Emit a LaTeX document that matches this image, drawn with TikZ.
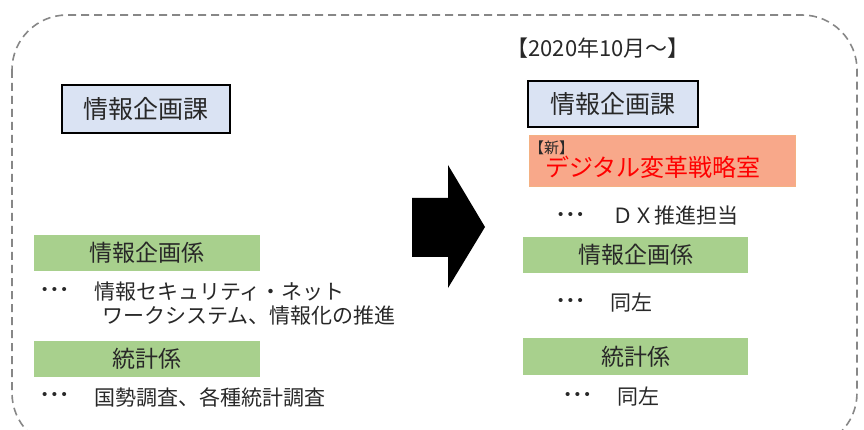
\documentclass[tikz,border=0pt]{standalone}
\usepackage{fontspec}
\setmainfont{Noto Sans CJK JP}
\newfontfamily\cjk{Noto Sans CJK JP}
\newfontfamily\latn{Liberation Sans}
\definecolor{bluefill}{RGB}{218,227,243}
\definecolor{greenfill}{RGB}{168,208,141}
\definecolor{orangefill}{RGB}{248,168,138}
\definecolor{orangeline}{RGB}{244,177,131}
\definecolor{frame}{RGB}{135,135,135}
\definecolor{txt}{RGB}{40,40,40}
\newcommand{\tridots}{•\hspace{4.5pt}•\hspace{4.5pt}•}
\begin{document}
\begin{tikzpicture}[x=1pt,y=-1pt,
  kabox/.style={draw=black,line width=1.5pt,fill=bluefill,inner sep=0pt,
    font=\cjk\fontsize{25}{28}\selectfont,text=txt},
  kakari/.style={fill=greenfill,inner sep=0pt,minimum width=226pt,minimum height=36pt,
    font=\cjk\fontsize{23}{26}\selectfont,text=txt},
  body/.style={anchor=west,inner sep=0pt,font=\cjk\fontsize{21}{24}\selectfont,text=txt},
  dots/.style={anchor=west,inner sep=0pt,font=\latn\fontsize{15}{17}\selectfont,text=txt}]
\useasboundingbox (0,0) rectangle (864,430);
\clip (0,0) rectangle (864,430);
% outer dashed frame
\draw[frame,line width=1.6pt,dash pattern=on 8pt off 5pt,rounded corners=55pt]
  (12,15) rectangle (857,448);
% arrow
\fill[black] (412,198) -- (448,198) -- (448,165) -- (485,227) -- (448,288)
  -- (448,257) -- (412,257) -- cycle;
% left side
\node[kabox,minimum width=168pt,minimum height=48pt] (lka) at (146,109) {情報企画課};
\node[kakari] (lk1) at (147,253) {情報企画係};
\node[dots] (ld1) at (42,291) {\tridots};
\node[body] (lt1) at (94,292) {情報セキュリティ・ネット};
\node[body] (lt2) at (102,316) {ワークシステム、情報化の推進};
\node[kakari] (lk2) at (147,359) {統計係};
\node[dots] (ld2) at (42,396) {\tridots};
\node[body] (lt3) at (94,397) {国勢調査、各種統計調査};
% right side
\node[inner sep=0pt,font=\cjk\fontsize{22}{24}\selectfont,text=txt] (date) at (598,48) {【2020年10月～】};
\node[kabox,minimum width=170pt,minimum height=46pt] (rka) at (613,104) {情報企画課};
\node[draw=orangeline,line width=0.8pt,fill=orangefill,minimum width=266pt,minimum height=51pt,inner sep=0pt] (dx) at (662,160.5) {};
\node[anchor=west,inner sep=0pt,font=\cjk\fontsize{15}{17}\selectfont,text=txt] (new) at (529,148) {【新】};
\node[anchor=west,inner sep=0pt,font=\cjk\fontsize{24}{26}\selectfont,text=red] (dxt) at (545,167) {デジタル変革戦略室};
\node[dots] (rd0) at (558,216) {\tridots};
\node[body] (rt0) at (612,216) {ＤＸ推進担当};
\node[kakari,minimum width=225pt] (rk1) at (635.5,255) {情報企画係};
\node[dots] (rd1) at (558,302) {\tridots};
\node[body] (rt1) at (610,303) {同左};
\node[kakari,minimum width=225pt,minimum height=37pt] (rk2) at (635.5,356.5) {統計係};
\node[dots] (rd2) at (565,396) {\tridots};
\node[body] (rt2) at (617,397) {同左};
\end{tikzpicture}
\end{document}
